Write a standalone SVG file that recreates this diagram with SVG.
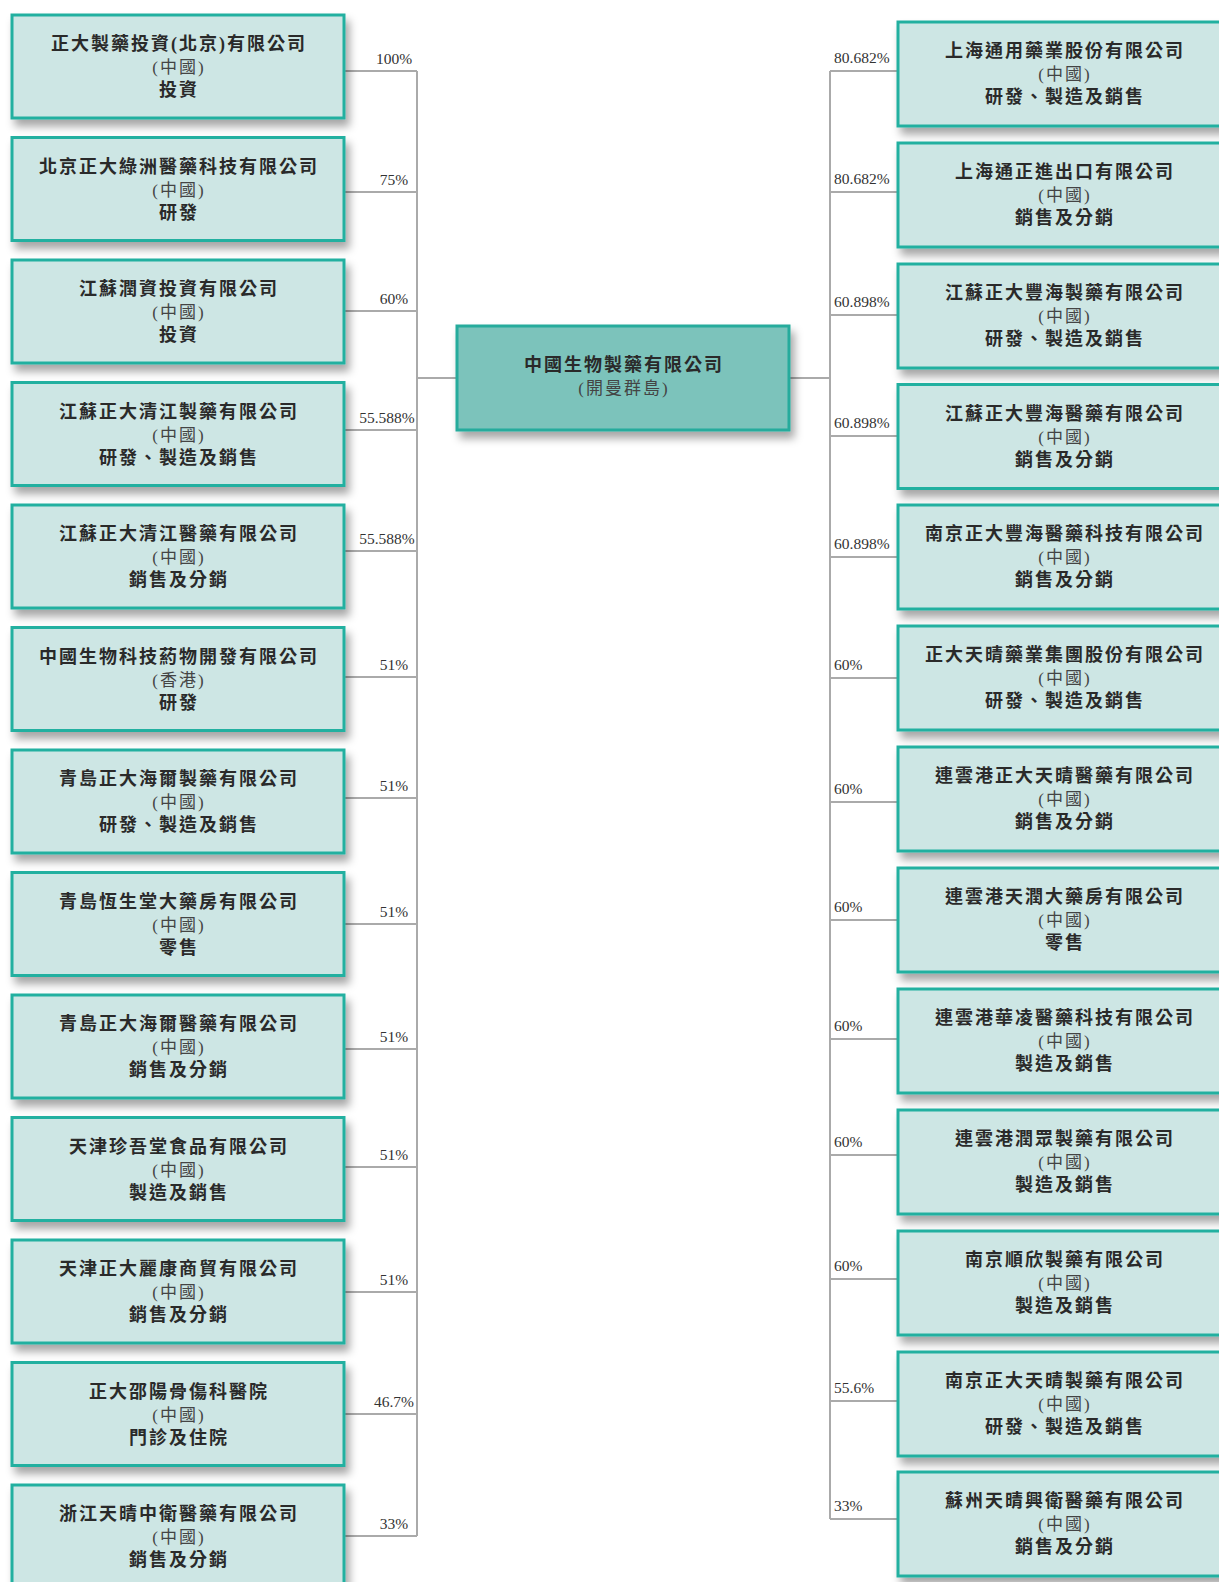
<svg xmlns="http://www.w3.org/2000/svg" width="1219" height="1582" viewBox="0 0 1219 1582">
<defs>
<filter id="sh" x="-10%" y="-20%" width="125%" height="150%">
<feDropShadow dx="4" dy="7" stdDeviation="4" flood-color="#000" flood-opacity="0.35"/>
</filter>
</defs>
<style>
.box{fill:#cde6e4;stroke:#22b0a0;stroke-width:3;filter:url(#sh)}
.cbox{fill:#7bc3bb;stroke:#25ab9c;stroke-width:3;filter:url(#sh)}
.nm{font-family:"Liberation Serif","Noto Sans CJK TC",serif;font-size:18px;font-weight:700;fill:#2a2a2a;letter-spacing:2px;text-anchor:middle}
.rg{font-family:"Liberation Serif","Noto Sans CJK TC",serif;font-size:17px;font-weight:400;fill:#444;letter-spacing:2px;text-anchor:middle}
.fn{font-family:"Liberation Serif","Noto Sans CJK TC",serif;font-size:18px;font-weight:700;fill:#2a2a2a;letter-spacing:2px;text-anchor:middle}
.ln{stroke:#aaa;stroke-width:2;fill:none}
.pl{font-family:"Liberation Serif",serif;font-size:15.5px;fill:#333;text-anchor:middle}
.pr{font-family:"Liberation Serif",serif;font-size:15.5px;fill:#333;text-anchor:start}
</style>
<rect width="1219" height="1582" fill="#fff"/>
<g id="connectors">
<path class="ln" d="M417 71V1536M830 71V1519M417 378H457M789 378H830"/>
<path class="ln" d="M344 71H417M344 192H417M344 311H417M344 430H417M344 551H417M344 677H417M344 798H417M344 924H417M344 1049H417M344 1167H417M344 1292H417M344 1414H417M344 1536H417"/>
<path class="ln" d="M830 71H898M830 192H898M830 315H898M830 436H898M830 557H898M830 678H898M830 802H898M830 920H898M830 1039H898M830 1155H898M830 1279H898M830 1401H898M830 1519H898"/>
<text class="pl" x="394" y="64">100%</text>
<text class="pl" x="394" y="185">75%</text>
<text class="pl" x="394" y="304">60%</text>
<text class="pl" x="387" y="423">55.588%</text>
<text class="pl" x="387" y="544">55.588%</text>
<text class="pl" x="394" y="670">51%</text>
<text class="pl" x="394" y="791">51%</text>
<text class="pl" x="394" y="917">51%</text>
<text class="pl" x="394" y="1042">51%</text>
<text class="pl" x="394" y="1160">51%</text>
<text class="pl" x="394" y="1285">51%</text>
<text class="pl" x="394" y="1407">46.7%</text>
<text class="pl" x="394" y="1529">33%</text>
<text class="pr" x="834" y="63">80.682%</text>
<text class="pr" x="834" y="184">80.682%</text>
<text class="pr" x="834" y="307">60.898%</text>
<text class="pr" x="834" y="428">60.898%</text>
<text class="pr" x="834" y="549">60.898%</text>
<text class="pr" x="834" y="670">60%</text>
<text class="pr" x="834" y="794">60%</text>
<text class="pr" x="834" y="912">60%</text>
<text class="pr" x="834" y="1031">60%</text>
<text class="pr" x="834" y="1147">60%</text>
<text class="pr" x="834" y="1271">60%</text>
<text class="pr" x="834" y="1393">55.6%</text>
<text class="pr" x="834" y="1511">33%</text>
</g>
<g id="center">
<rect class="cbox" x="457" y="326" width="332" height="104"/>
<text class="nm" x="624" y="371">中國生物製藥有限公司</text>
<text class="rg" x="624" y="394">(開曼群島)</text>
</g>
<g id="L1"><rect class="box" x="12" y="15" width="332" height="103"/><text class="nm" x="179" y="50">正大製藥投資(北京)有限公司</text><text class="rg" x="179" y="73">(中國)</text><text class="fn" x="179" y="96">投資</text></g>
<g id="L2"><rect class="box" x="12" y="137.5" width="332" height="103"/><text class="nm" x="179" y="172.5">北京正大綠洲醫藥科技有限公司</text><text class="rg" x="179" y="195.5">(中國)</text><text class="fn" x="179" y="218.5">研發</text></g>
<g id="L3"><rect class="box" x="12" y="260" width="332" height="103"/><text class="nm" x="179" y="295">江蘇潤資投資有限公司</text><text class="rg" x="179" y="318">(中國)</text><text class="fn" x="179" y="341">投資</text></g>
<g id="L4"><rect class="box" x="12" y="382.5" width="332" height="103"/><text class="nm" x="179" y="417.5">江蘇正大清江製藥有限公司</text><text class="rg" x="179" y="440.5">(中國)</text><text class="fn" x="179" y="463.5">研發、製造及銷售</text></g>
<g id="L5"><rect class="box" x="12" y="505" width="332" height="103"/><text class="nm" x="179" y="540">江蘇正大清江醫藥有限公司</text><text class="rg" x="179" y="563">(中國)</text><text class="fn" x="179" y="586">銷售及分銷</text></g>
<g id="L6"><rect class="box" x="12" y="627.5" width="332" height="103"/><text class="nm" x="179" y="662.5">中國生物科技葯物開發有限公司</text><text class="rg" x="179" y="685.5">(香港)</text><text class="fn" x="179" y="708.5">研發</text></g>
<g id="L7"><rect class="box" x="12" y="750" width="332" height="103"/><text class="nm" x="179" y="785">青島正大海爾製藥有限公司</text><text class="rg" x="179" y="808">(中國)</text><text class="fn" x="179" y="831">研發、製造及銷售</text></g>
<g id="L8"><rect class="box" x="12" y="872.5" width="332" height="103"/><text class="nm" x="179" y="907.5">青島恆生堂大藥房有限公司</text><text class="rg" x="179" y="930.5">(中國)</text><text class="fn" x="179" y="953.5">零售</text></g>
<g id="L9"><rect class="box" x="12" y="995" width="332" height="103"/><text class="nm" x="179" y="1030">青島正大海爾醫藥有限公司</text><text class="rg" x="179" y="1053">(中國)</text><text class="fn" x="179" y="1076">銷售及分銷</text></g>
<g id="L10"><rect class="box" x="12" y="1117.5" width="332" height="103"/><text class="nm" x="179" y="1152.5">天津珍吾堂食品有限公司</text><text class="rg" x="179" y="1175.5">(中國)</text><text class="fn" x="179" y="1198.5">製造及銷售</text></g>
<g id="L11"><rect class="box" x="12" y="1240" width="332" height="103"/><text class="nm" x="179" y="1275">天津正大麗康商貿有限公司</text><text class="rg" x="179" y="1298">(中國)</text><text class="fn" x="179" y="1321">銷售及分銷</text></g>
<g id="L12"><rect class="box" x="12" y="1362.5" width="332" height="103"/><text class="nm" x="179" y="1397.5">正大邵陽骨傷科醫院</text><text class="rg" x="179" y="1420.5">(中國)</text><text class="fn" x="179" y="1443.5">門診及住院</text></g>
<g id="L13"><rect class="box" x="12" y="1485" width="332" height="103"/><text class="nm" x="179" y="1520">浙江天晴中衛醫藥有限公司</text><text class="rg" x="179" y="1543">(中國)</text><text class="fn" x="179" y="1566">銷售及分銷</text></g>
<g id="R1"><rect class="box" x="898" y="22" width="340" height="104"/><text class="nm" x="1065" y="57">上海通用藥業股份有限公司</text><text class="rg" x="1065" y="80">(中國)</text><text class="fn" x="1065" y="103">研發、製造及銷售</text></g>
<g id="R2"><rect class="box" x="898" y="143" width="340" height="104"/><text class="nm" x="1065" y="178">上海通正進出口有限公司</text><text class="rg" x="1065" y="201">(中國)</text><text class="fn" x="1065" y="224">銷售及分銷</text></g>
<g id="R3"><rect class="box" x="898" y="264" width="340" height="104"/><text class="nm" x="1065" y="299">江蘇正大豐海製藥有限公司</text><text class="rg" x="1065" y="322">(中國)</text><text class="fn" x="1065" y="345">研發、製造及銷售</text></g>
<g id="R4"><rect class="box" x="898" y="384.5" width="340" height="104"/><text class="nm" x="1065" y="419.5">江蘇正大豐海醫藥有限公司</text><text class="rg" x="1065" y="442.5">(中國)</text><text class="fn" x="1065" y="465.5">銷售及分銷</text></g>
<g id="R5"><rect class="box" x="898" y="505" width="340" height="104"/><text class="nm" x="1065" y="540">南京正大豐海醫藥科技有限公司</text><text class="rg" x="1065" y="563">(中國)</text><text class="fn" x="1065" y="586">銷售及分銷</text></g>
<g id="R6"><rect class="box" x="898" y="626" width="340" height="104"/><text class="nm" x="1065" y="661">正大天晴藥業集團股份有限公司</text><text class="rg" x="1065" y="684">(中國)</text><text class="fn" x="1065" y="707">研發、製造及銷售</text></g>
<g id="R7"><rect class="box" x="898" y="747" width="340" height="104"/><text class="nm" x="1065" y="782">連雲港正大天晴醫藥有限公司</text><text class="rg" x="1065" y="805">(中國)</text><text class="fn" x="1065" y="828">銷售及分銷</text></g>
<g id="R8"><rect class="box" x="898" y="868" width="340" height="104"/><text class="nm" x="1065" y="903">連雲港天潤大藥房有限公司</text><text class="rg" x="1065" y="926">(中國)</text><text class="fn" x="1065" y="949">零售</text></g>
<g id="R9"><rect class="box" x="898" y="989" width="340" height="104"/><text class="nm" x="1065" y="1024">連雲港華凌醫藥科技有限公司</text><text class="rg" x="1065" y="1047">(中國)</text><text class="fn" x="1065" y="1070">製造及銷售</text></g>
<g id="R10"><rect class="box" x="898" y="1110" width="340" height="104"/><text class="nm" x="1065" y="1145">連雲港潤眾製藥有限公司</text><text class="rg" x="1065" y="1168">(中國)</text><text class="fn" x="1065" y="1191">製造及銷售</text></g>
<g id="R11"><rect class="box" x="898" y="1231" width="340" height="104"/><text class="nm" x="1065" y="1266">南京順欣製藥有限公司</text><text class="rg" x="1065" y="1289">(中國)</text><text class="fn" x="1065" y="1312">製造及銷售</text></g>
<g id="R12"><rect class="box" x="898" y="1352" width="340" height="104"/><text class="nm" x="1065" y="1387">南京正大天晴製藥有限公司</text><text class="rg" x="1065" y="1410">(中國)</text><text class="fn" x="1065" y="1433">研發、製造及銷售</text></g>
<g id="R13"><rect class="box" x="898" y="1472" width="340" height="104"/><text class="nm" x="1065" y="1507">蘇州天晴興衛醫藥有限公司</text><text class="rg" x="1065" y="1530">(中國)</text><text class="fn" x="1065" y="1553">銷售及分銷</text></g>
</svg>
